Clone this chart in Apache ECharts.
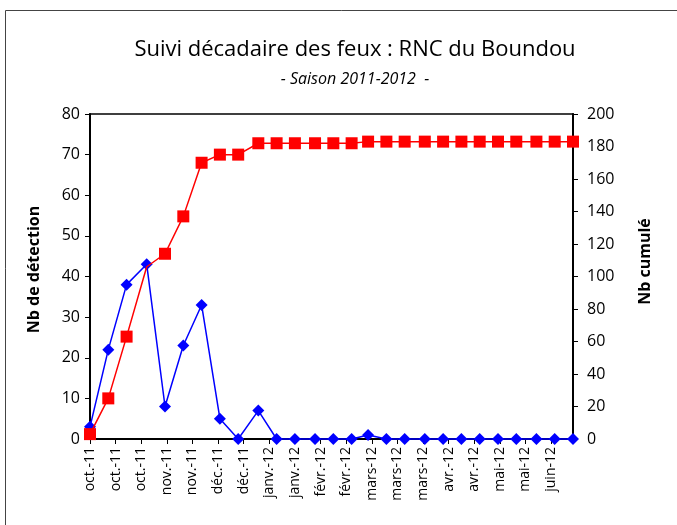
<!DOCTYPE html>
<html>
<head>
<meta charset="utf-8">
<script src="https://cdn.jsdelivr.net/npm/echarts@6/dist/echarts.min.js"></script>
<style>
  html, body { margin: 0; padding: 0; background: #fff; }
  #chart { width: 677px; height: 525px; }
</style>
</head>
<body>
<div id="chart"></div>
<script>
// décades (1, 11, 21 of each month)
var decades = [
  '2011-10-01', '2011-10-11', '2011-10-21',
  '2011-11-01', '2011-11-11', '2011-11-21',
  '2011-12-01', '2011-12-11', '2011-12-21',
  '2012-01-01', '2012-01-11', '2012-01-21',
  '2012-02-01', '2012-02-11', '2012-02-21',
  '2012-03-01', '2012-03-11', '2012-03-21',
  '2012-04-01', '2012-04-11', '2012-04-21',
  '2012-05-01', '2012-05-11', '2012-05-21',
  '2012-06-01', '2012-06-11', '2012-06-21'
]
var detections = [3, 22, 38, 43, 8, 23, 33, 5, 0, 7, 0, 0, 0, 0, 0, 1, 0, 0, 0, 0, 0, 0, 0, 0, 0, 0, 0]
var cumul = [3, 25, 63, 106, 114, 137, 170, 175, 175, 182, 182, 182, 182, 182, 182, 183, 183, 183, 183, 183, 183, 183, 183, 183, 183, 183, 183]
// date axis labels, one every 14 days from 1 oct.
var tickLabels = ['oct.-11', 'oct.-11', 'oct.-11', 'nov.-11', 'nov.-11', 'déc.-11', 'déc.-11',
  'janv.-12', 'janv.-12', 'févr.-12', 'févr.-12', 'mars-12', 'mars-12', 'mars-12',
  'avr.-12', 'avr.-12', 'mai-12', 'mai-12', 'juin-12']

// days since first décade
var dayOf = function (s) {
  var p = s.split('-')
  var p0 = decades[0].split('-')
  return (Date.UTC(+p[0], +p[1] - 1, +p[2]) - Date.UTC(+p0[0], +p0[1] - 1, +p0[2])) / 86400000
}
var xDays = decades.map(dayOf)
var lastDay = xDays[xDays.length - 1]

var font = 'Open Sans'
var chart = echarts.init(document.getElementById('chart'))
var option = {
  animation: false,
  title: {
    text: 'Suivi décadaire des feux : RNC du Boundou',
    subtext: '- Saison 2011-2012  -',
    left: 350,
    textAlign: 'center',
    top: 34,
    itemGap: 10,
    textStyle: { fontFamily: font, fontSize: 22, fontWeight: 'normal', color: '#000' },
    subtextStyle: { fontFamily: font, fontSize: 16, fontStyle: 'italic', color: '#000' }
  },
  graphic: [{
    type: 'rect',
    shape: { x: 5.5, y: 10.5, width: 700, height: 600 },
    style: { fill: 'none', stroke: '#444', lineWidth: 1 },
    silent: true
  }],
  grid: {
    left: 90, right: 104, top: 114, bottom: 86,
    show: true, borderColor: '#000', borderWidth: 1.5
  },
  xAxis: {
    type: 'value',
    min: 0,
    max: lastDay,
    interval: 14,
    splitLine: { show: false },
    axisLine: { onZero: false, lineStyle: { color: '#000', width: 2 } },
    axisTick: { inside: false, length: 5, lineStyle: { color: '#000' } },
    axisLabel: {
      rotate: 90,
      margin: 8,
      fontFamily: font,
      fontSize: 14,
      color: '#000',
      showMaxLabel: false,
      formatter: function (v) {
        return v % 14 === 0 ? (tickLabels[v / 14] || '') : ''
      }
    }
  },
  yAxis: [{
    type: 'value',
    min: 0,
    max: 80,
    interval: 10,
    name: 'Nb de détection',
    nameLocation: 'middle',
    nameGap: 48,
    nameTextStyle: { fontFamily: font, fontSize: 16, fontWeight: 'bold', color: '#000', padding: [0, 0, 0, 14] },
    splitLine: { show: false },
    axisLine: { show: true, lineStyle: { color: '#000', width: 2 } },
    axisTick: { show: true, length: 5, lineStyle: { color: '#000' } },
    axisLabel: { fontFamily: font, fontSize: 16, color: '#000', margin: 10 }
  }, {
    type: 'value',
    min: 0,
    max: 200,
    interval: 20,
    position: 'right',
    name: 'Nb cumulé',
    nameLocation: 'middle',
    nameGap: 64,
    nameRotate: 90,
    nameTextStyle: { fontFamily: font, fontSize: 16, fontWeight: 'bold', color: '#000', padding: [0, 0, 0, 30] },
    splitLine: { show: false },
    axisLine: { show: true, lineStyle: { color: '#000', width: 2 } },
    axisTick: { show: true, length: 5, lineStyle: { color: '#000' } },
    axisLabel: { fontFamily: font, fontSize: 16, color: '#000', margin: 14 }
  }],
  series: [{
    name: 'Nb de détection',
    type: 'line',
    yAxisIndex: 0,
    symbol: 'diamond',
    symbolSize: 12,
    clip: false,
    z: 2,
    itemStyle: { color: '#0000ff' },
    lineStyle: { color: '#0000ff', width: 1.5 },
    data: xDays.map(function (d, i) { return [d, detections[i]] })
  }, {
    name: 'Nb cumulé',
    type: 'line',
    yAxisIndex: 1,
    symbol: 'rect',
    symbolSize: 12,
    clip: false,
    z: 3,
    itemStyle: { color: '#ff0000' },
    lineStyle: { color: '#ff0000', width: 1.5 },
    data: xDays.map(function (d, i) {
      // marker hidden under the blue diamond in the source
      return i === 3 ? { value: [d, cumul[i]], symbol: 'none' } : [d, cumul[i]]
    })
  }]
}
chart.setOption(option)
</script>
</body>
</html>
